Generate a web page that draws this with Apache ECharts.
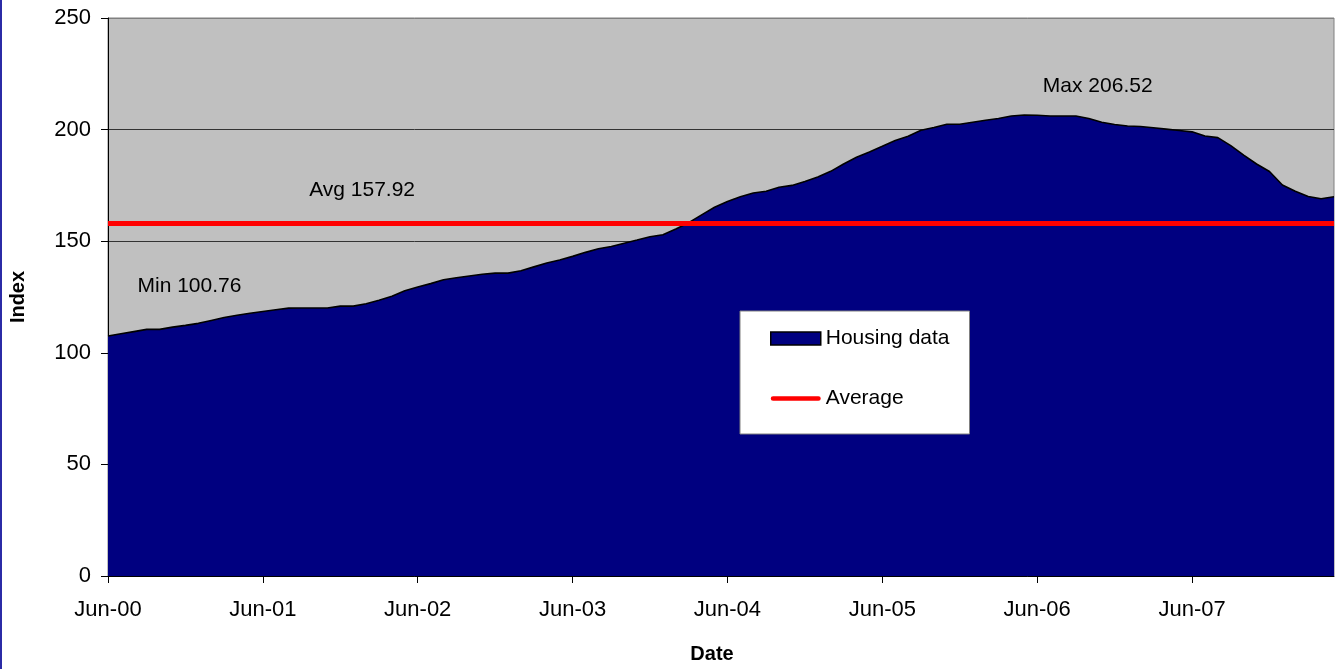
<!DOCTYPE html>
<html>
<head>
<meta charset="utf-8">
<title>Housing data index</title>
<script src="https://cdn.jsdelivr.net/npm/echarts@6/dist/echarts.min.js"></script>
<style>
  html, body { margin: 0; padding: 0; background: #ffffff; }
  #chart { width: 1340px; height: 669px; }
</style>
</head>
<body>
<div id="chart"></div>
<script>
// Monthly housing index, Jun-00 through May-08
const MONTH_NAMES = ['Jan', 'Feb', 'Mar', 'Apr', 'May', 'Jun', 'Jul', 'Aug', 'Sep', 'Oct', 'Nov', 'Dec'];
const START_YEAR = 2000;
const START_MONTH = 5;   // June
const MONTH_COUNT = 96;

const CATEGORIES = [];
for (let k = 0; k < MONTH_COUNT; k++) {
  const m = (START_MONTH + k) % 12;
  const y = START_YEAR + Math.floor((START_MONTH + k) / 12);
  CATEGORIES.push(MONTH_NAMES[m] + '-' + String(y % 100).padStart(2, '0'));
}

const HOUSING = [
  107.5, 108.5, 109.5, 110.5, 110.5, 111.5, 112.3, 113.2, 114.5, 115.8, 116.8, 117.7,
  118.5, 119.3, 120.0, 120.1, 120.1, 120.1, 120.9, 120.9, 122.0, 123.5, 125.3, 127.8,
  129.5, 131.0, 132.7, 133.6, 134.4, 135.2, 135.7, 135.7, 136.8, 138.5, 140.2, 141.6,
  143.2, 145.0, 146.6, 147.6, 149.1, 150.5, 152.0, 152.9, 155.5, 158.3, 161.8, 165.2,
  167.8, 169.9, 171.6, 172.4, 174.2, 175.0, 176.7, 178.8, 181.3, 184.6, 187.6, 190.0,
  192.5, 195.1, 197.0, 199.7, 200.9, 202.4, 202.4, 203.3, 204.2, 205.0, 206.1, 206.52,
  206.4, 206.1, 206.1, 206.1, 205.0, 203.3, 202.3, 201.6, 201.4, 200.8, 200.2, 199.6,
  199.0, 197.1, 196.4, 192.8, 188.6, 184.6, 181.2, 175.2, 172.4, 170.0, 169.0, 169.9
];

const AVERAGE = 157.92;
const MINIMUM = 100.76;
const MAXIMUM = Math.max.apply(null, HOUSING);

const Y_MIN = 0;
const Y_MAX = 250;
const Y_STEP = 50;

const FONT = '"Liberation Sans", Arial, sans-serif';

// Text annotation anchored to a data position, drawn as an invisible point
function note(text, cat, value, dx) {
  return {
    coord: [CATEGORIES[cat], value],
    symbol: 'circle',
    symbolSize: 1,
    itemStyle: { color: 'rgba(0,0,0,0)' },
    label: {
      show: true,
      position: 'inside',
      offset: [dx, 0],
      formatter: text,
      color: '#000000',
      fontFamily: FONT,
      fontSize: 21
    }
  };
}

const chart = echarts.init(document.getElementById('chart'), null, { renderer: 'canvas' });

chart.setOption({
  backgroundColor: '#ffffff',
  animation: false,
  textStyle: { fontFamily: FONT },
  graphic: [{
    type: 'rect',
    left: 0,
    top: 0,
    shape: { width: 2, height: 669 },
    style: { fill: '#2b2ba6' },
    silent: true
  }],
  grid: {
    left: 108,
    top: 18,
    right: 6,
    bottom: 89,
    show: true,
    backgroundColor: '#C0C0C0',
    borderColor: '#808080',
    borderWidth: 1,
    containLabel: false
  },
  legend: {
    left: 740,
    top: 311,
    orient: 'vertical',
    selectedMode: false,
    backgroundColor: '#ffffff',
    borderColor: '#808080',
    borderWidth: 1,
    padding: [17, 20, 25, 30],
    itemGap: 39,
    itemWidth: 50,
    itemHeight: 13,
    textStyle: { color: '#000000', fontFamily: FONT, fontSize: 21 },
    data: [
      {
        name: 'Housing data',
        icon: 'rect',
        itemStyle: { color: '#000080', borderColor: '#000000', borderWidth: 1.5 }
      },
      {
        // thick rounded red stroke
        name: 'Average',
        icon: 'path://M2.5,0 H51.5 A2.5,2.5 0 0 1 51.5,5 H2.5 A2.5,2.5 0 0 1 2.5,0 Z',
        itemStyle: { color: '#FF0000', borderWidth: 0 }
      }
    ]
  },
  xAxis: {
    type: 'category',
    data: CATEGORIES,
    boundaryGap: false,
    name: 'Date',
    nameLocation: 'middle',
    nameGap: 68,
    nameTextStyle: {
      fontFamily: FONT,
      fontSize: 20,
      fontWeight: 'bold',
      color: '#000000',
      padding: [0, 18, 0, 0]
    },
    axisLine: { lineStyle: { color: '#000000', width: 1 } },
    axisTick: {
      show: true,
      interval: 11,
      length: 7,
      lineStyle: { color: '#000000' }
    },
    axisLabel: {
      interval: 11,
      margin: 23,
      color: '#000000',
      fontFamily: FONT,
      fontSize: 22
    },
    splitLine: { show: false }
  },
  yAxis: {
    type: 'value',
    min: Y_MIN,
    max: Y_MAX,
    interval: Y_STEP,
    name: 'Index',
    nameLocation: 'middle',
    nameGap: 80,
    nameTextStyle: {
      fontFamily: FONT,
      fontSize: 20,
      fontWeight: 'bold',
      color: '#000000'
    },
    axisLine: { show: true, lineStyle: { color: '#000000', width: 1 } },
    axisTick: { show: true, length: 7, lineStyle: { color: '#000000' } },
    axisLabel: {
      margin: 17,
      color: '#000000',
      fontFamily: FONT,
      fontSize: 22
    },
    splitLine: {
      show: true,
      lineStyle: {
        color: ['#333333', '#333333', '#333333', '#333333', '#333333', '#808080'],
        width: 1
      }
    }
  },
  series: [
    {
      name: 'Housing data',
      type: 'line',
      data: HOUSING,
      symbol: 'none',
      smooth: false,
      color: '#000080',
      lineStyle: { color: '#000000', width: 1.6 },
      areaStyle: { color: '#000080', opacity: 1 },
      z: 2,
      markPoint: {
        silent: true,
        data: [
          note('Min ' + MINIMUM.toFixed(2), 6, 129.9, 4),
          note('Max ' + MAXIMUM.toFixed(2), 77, 219.3, -4)
        ]
      }
    },
    {
      name: 'Average',
      type: 'line',
      data: [],
      symbol: 'none',
      color: '#FF0000',
      lineStyle: { color: '#FF0000', width: 5 },
      z: 4,
      markLine: {
        silent: true,
        symbol: 'none',
        lineStyle: { color: '#FF0000', width: 5, type: 'solid' },
        label: { show: false },
        data: [{ yAxis: AVERAGE }]
      },
      markPoint: {
        silent: true,
        data: [note('Avg ' + AVERAGE.toFixed(2), 20, 173.0, -4)]
      }
    }
  ]
});
</script>
</body>
</html>
